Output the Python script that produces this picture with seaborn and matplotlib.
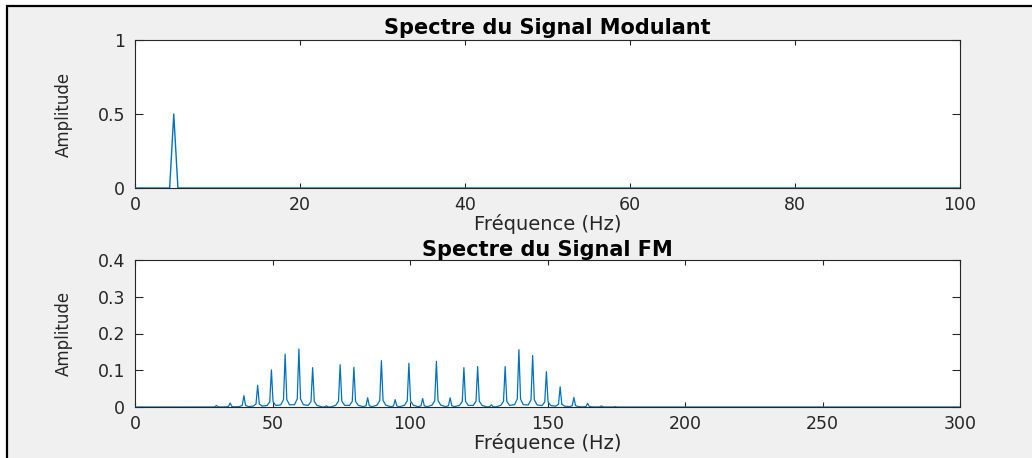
import numpy as np
import pandas as pd
import matplotlib
matplotlib.use("Agg")
import matplotlib.pyplot as plt
from matplotlib.patches import Rectangle
import seaborn as sns

# ---------------- data ----------------
mod_freqs = [4.7]
mod_amps = [0.5]
mod_xmax = 100

fm_freqs = [29.6, 34.6, 39.6, 44.6, 49.6, 54.6, 59.6, 64.6, 69.6, 74.6,
            79.6, 84.6, 89.6, 94.6, 99.6, 104.6, 109.6, 114.6, 119.6, 124.6,
            129.6, 134.6, 139.6, 144.6, 149.6, 154.6, 159.6, 164.6, 169.6, 174.6]
fm_amps = [0.004, 0.011, 0.031, 0.059, 0.101, 0.144, 0.158, 0.107, 0.003, 0.115,
           0.108, 0.025, 0.126, 0.020, 0.119, 0.023, 0.124, 0.025, 0.107, 0.110,
           0.006, 0.110, 0.156, 0.140, 0.096, 0.055, 0.026, 0.010, 0.003, 0.001]
fm_xmax = 300

top_title = "Spectre du Signal Modulant"
bot_title = "Spectre du Signal FM"
xlabel = "Fréquence (Hz)"
ylabel = "Amplitude"
top_xticks = [0, 20, 40, 60, 80, 100]
top_yticks = [0, 0.5, 1]
top_ytick_labels = ["0", "0.5", "1"]
bot_xticks = [0, 50, 100, 150, 200, 250, 300]
bot_yticks = [0, 0.1, 0.2, 0.3, 0.4]
bot_ytick_labels = ["0", "0.1", "0.2", "0.3", "0.4"]


def spectrum_line(freqs, amps, xmax, offsets, fracs):
    xs, ys = [0.0], [0.0]
    for f, a in zip(freqs, amps):
        for o, fr in zip(offsets, fracs):
            xs.append(f + o)
            ys.append(a * fr)
    xs.append(float(xmax))
    ys.append(0.0)
    return pd.DataFrame({"f": xs, "a": ys})


top_df = spectrum_line(mod_freqs, mod_amps, mod_xmax, [-0.5, 0, 0.5], [0, 1, 0])
bot_df = spectrum_line(fm_freqs, fm_amps, fm_xmax,
                       [-1.6, -0.6, 0, 0.6, 1.6], [0.04, 0.14, 1, 0.14, 0.04])

# ---------------- style ----------------
sns.set_theme(style="white")
plt.rcParams["font.family"] = ["DejaVu Sans"]
dark = "#262626"
line_color = "#0072BD"

W, H = 1032, 458
fig = plt.figure(figsize=(W / 100, H / 100), dpi=100, facecolor="white")
fig.patches.append(Rectangle((7 / W, -0.1), 1.2, 1.1 - 6 / H,
                             transform=fig.transFigure, facecolor="#F0F0F0",
                             edgecolor="black", linewidth=1.6, zorder=-10))

ax1 = fig.add_axes([135 / W, 1 - 188 / H, 825 / W, 148 / H])
ax2 = fig.add_axes([135 / W, 1 - 407 / H, 825 / W, 147 / H])

sns.lineplot(data=top_df, x="f", y="a", ax=ax1, color=line_color, lw=1.0,
             estimator=None, sort=False, zorder=3)
sns.lineplot(data=bot_df, x="f", y="a", ax=ax2, color=line_color, lw=0.9,
             estimator=None, sort=False, zorder=3)

configs = [
    (ax1, top_title, (0, mod_xmax), (0, 1), top_xticks, top_yticks, top_ytick_labels, 148, 4.0),
    (ax2, bot_title, (0, fm_xmax), (0, 0.4), bot_xticks, bot_yticks, bot_ytick_labels, 147, 3.0),
]
for ax, title, xl, yl, xt, yt, ytl, hpx, tpad in configs:
    ax.set_facecolor("white")
    ax.set_xlim(*xl)
    ax.set_ylim(*yl)
    ax.set_xticks(xt)
    ax.set_xticklabels([str(v) for v in xt])
    ax.set_yticks(yt)
    ax.set_yticklabels(ytl)
    for s in ax.spines.values():
        s.set_visible(True)
        s.set_color(dark)
        s.set_linewidth(0.8)
    ax.tick_params(axis="x", direction="in", length=3.5, width=0.8, color=dark,
                   labelsize=12.5, labelcolor=dark, pad=6, top=True, bottom=True)
    ax.tick_params(axis="y", direction="in", length=6, width=0.8, color=dark,
                   labelsize=12.5, labelcolor=dark, pad=7, left=True, right=True)
    ax.set_title(title, fontsize=15, fontweight="bold", color="black", pad=tpad)
    ax.set_xlabel(xlabel, fontsize=14, color=dark)
    ax.xaxis.label.set_va("baseline")
    ax.xaxis.set_label_coords(0.5, -42 / hpx)
    ax.set_ylabel(ylabel, fontsize=12, color=dark)
    ax.yaxis.set_label_coords(-62 / 825, 0.5)

fig.savefig("out.png", dpi=100, facecolor=fig.get_facecolor())
